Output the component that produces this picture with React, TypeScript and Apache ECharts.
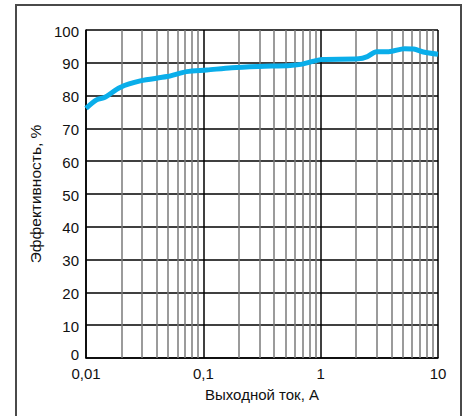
import React, { useEffect, useRef } from "react";
import * as echarts from "echarts";

const currentA = [0.01, 0.0123, 0.0145, 0.0195, 0.029, 0.049, 0.072, 0.107, 0.175, 0.3, 0.55, 0.7, 0.87, 1.03, 2.1, 2.5, 3.0, 3.8, 5.2, 6.2, 7.5, 10];
const efficiency = [76.1, 78.7, 79.5, 82.5, 84.5, 85.8, 87.3, 87.8, 88.5, 88.9, 89.2, 89.6, 90.5, 91.0, 91.2, 91.9, 93.4, 93.4, 94.3, 94.2, 93.3, 92.6];
const minorTicks = [0.02, 0.03, 0.04, 0.05, 0.06, 0.07, 0.08, 0.09, 0.2, 0.3, 0.4, 0.5, 0.6, 0.7, 0.8, 0.9, 2, 3, 4, 5, 6, 7, 8, 9];
const xTitle = "Выходной ток, А";
const yTitle = "Эффективность, %";

const FONT = "'Liberation Sans', Arial, sans-serif";

export default function App() {
  const ref = useRef<HTMLDivElement>(null);
  useEffect(() => {
    if (!ref.current) return;
    const chart = echarts.init(ref.current, undefined, { renderer: "svg" });
    chart.setOption({
      animation: false,
      backgroundColor: "#ffffff",
      textStyle: { fontFamily: FONT },
      graphic: [
        {
          type: "rect",
          shape: { x: 16, y: 5, width: 445, height: 430 },
          style: { fill: "none", stroke: "#4a4a4a", lineWidth: 2 },
          z: 0,
          silent: true,
        },
      ],
      grid: { left: 86, top: 30, width: 352, height: 328, containLabel: false },
      xAxis: {
        type: "log",
        logBase: 10,
        min: 0.01,
        max: 10,
        name: xTitle,
        nameLocation: "middle",
        nameGap: 29,
        nameTextStyle: { fontSize: 15, color: "#111", fontFamily: FONT },
        axisLine: { show: true, lineStyle: { color: "#000", width: 1.5 } },
        axisTick: { show: false },
        axisLabel: {
          fontSize: 15,
          color: "#111",
          fontFamily: FONT,
          margin: 8,
          formatter: (v: number) => String(v).replace(".", ","),
        },
        splitLine: { show: true, lineStyle: { color: "#000", width: 1.5 } },
      },
      yAxis: {
        type: "value",
        min: 0,
        max: 100,
        interval: 10,
        name: yTitle,
        nameLocation: "middle",
        nameGap: 31,
        nameTextStyle: { fontSize: 15.5, color: "#111", fontFamily: FONT },
        axisLine: { show: true, lineStyle: { color: "#000", width: 1.5 } },
        axisTick: { show: false },
        axisLabel: {
          fontSize: 15,
          color: "#111",
          fontFamily: FONT,
          margin: 7,
          formatter: (v: number) => (v === 0 ? "{z|0}" : "{n|" + v + "}"),
          rich: {
            z: { fontSize: 15, color: "#111", fontFamily: FONT, padding: [0, 0, 7, 0] },
            n: { fontSize: 15, color: "#111", fontFamily: FONT, padding: [2, 0, 0, 0] },
          },
        },
        splitLine: { show: true, lineStyle: { color: "#000", width: 1.5 } },
      },
      series: [
        {
          type: "line",
          data: [],
          silent: true,
          markLine: {
            silent: true,
            symbol: "none",
            label: { show: false },
            lineStyle: { color: "#7a7a7a", width: 1.5, type: "solid" },
            data: minorTicks.map((v) => ({ xAxis: v })),
          },
        },
        {
          type: "line",
          data: currentA.map((x, i) => [x, efficiency[i]]),
          showSymbol: false,
          smooth: 0.3,
          lineStyle: { color: "#0aaeea", width: 5 },
          z: 5,
        },
      ],
    });
    return () => chart.dispose();
  }, []);
  return <div ref={ref} style={{ position: "fixed", left: 0, top: 0, width: 464, height: 416 }} />;
}
